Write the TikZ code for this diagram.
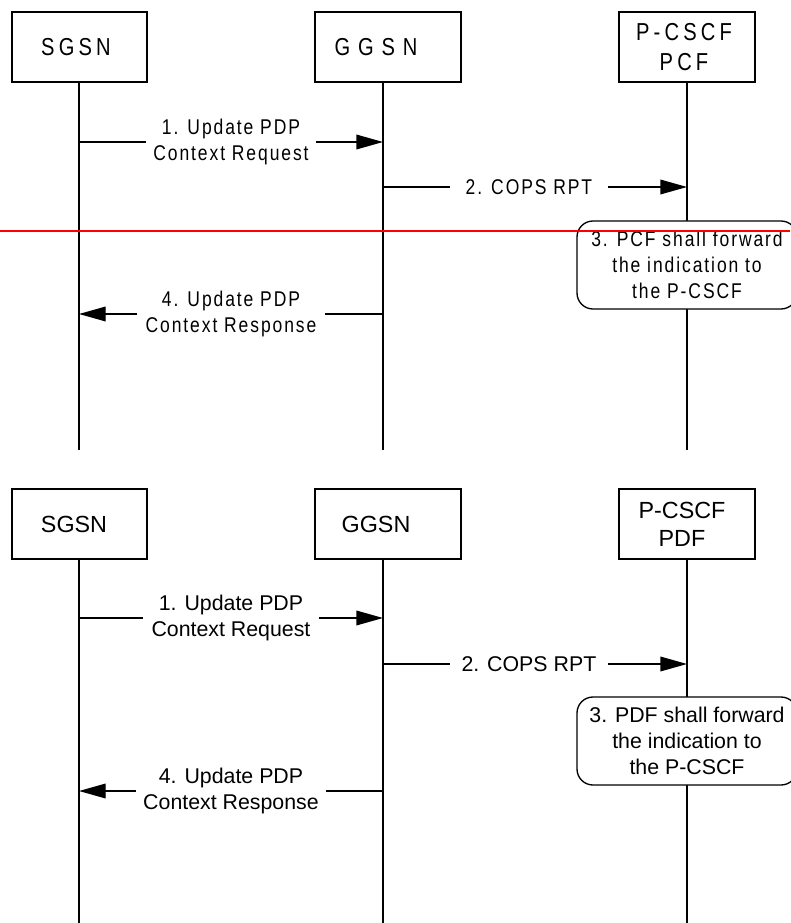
\documentclass[tikz,border=0pt]{standalone}
\usepackage{fontspec}
\setmainfont{Liberation Sans}
% narrow, letter-spaced face for the upper chart
\newfontfamily\condsans[FakeStretch=0.82,LetterSpace=9]{Liberation Sans}
\newfontfamily\condhead[FakeStretch=0.82,LetterSpace=17]{Liberation Sans}
\newfontfamily\condwide[FakeStretch=0.82,LetterSpace=32]{Liberation Sans}
\usetikzlibrary{arrows.meta}

\begin{document}
\begin{tikzpicture}[x=0.75pt,y=-0.75pt,
  entity/.style={draw, line width=1pt, minimum height=52.5pt, inner sep=0pt},
  life/.style={line width=1pt},
  msg/.style={line width=1pt, -{Triangle[length=20pt,width=11pt]}},
  lbl/.style={fill=white, inner xsep=0pt, inner ysep=1pt, align=center},
  note/.style={draw, fill=white, line width=1pt, rounded corners=12pt,
    minimum width=165pt, minimum height=66pt, align=center, inner sep=0pt},
  toptxt/.style={font=\condsans\fontsize{16}{19.5}\selectfont},
  tophead/.style={inner sep=0pt, align=center, font=\condhead\fontsize{18.4}{22.5}\selectfont},
  bottxt/.style={font=\fontsize{16}{19.5}\selectfont},
  bothead/.style={inner sep=0pt, align=center, font=\fontsize{17.5}{21}\selectfont},
]
\useasboundingbox (0,0) rectangle (790,923);

% lifeline positions and lower ends
\coordinate (xS) at (79,0);
\coordinate (xG) at (383,0);
\coordinate (xP) at (687,0);
\coordinate (bT) at (0,450);
\coordinate (bB) at (0,923);

% ---------------- upper chart ----------------
\node[entity, minimum width=101.25pt] (sgsnT) at (79.5,47) {};
\node[entity, minimum width=109.5pt] (ggsnT) at (388,47) {};
\node[entity, minimum width=102pt] (pcfT) at (687,47) {};
\node[tophead] (sgsnTt) at (76,47) {SGSN};
\node[tophead, font=\condwide\fontsize{18.4}{22.5}\selectfont] (ggsnTt) at (376,47) {GGSN};
\node[tophead] (pcfTt) at (684,47) {P-CSCF\\PCF};

\draw[life] (sgsnT.south -| xS) -- (bT -| xS);
\draw[life] (ggsnT.south -| xG) -- (bT -| xG);
\draw[life] (pcfT.south -| xP) -- (bT -| xP);

\coordinate (t1) at (0,142);
\coordinate (t2) at (0,187);
\coordinate (t4) at (0,314);

\draw[msg] (t1 -| xS) -- node[lbl, toptxt, minimum width=128pt] (t1l) {1. Update PDP\\Context Request} (t1 -| xG);
\draw[msg] (t2 -| xG) -- node[lbl, toptxt, pos=0.48, minimum width=118.5pt] (t2l) {2. COPS RPT} (t2 -| xP);
\node[note, toptxt] (t3) at (687,265) {3. PCF shall forward\\the indication to\\the P-CSCF};
\draw[msg] (t4 -| xG) -- node[lbl, toptxt, minimum width=141pt] (t4l) {4. Update PDP\\Context Response} (t4 -| xS);

% red rule across the upper chart
\draw[red, line width=1pt] (0,231) -- (790,231);

% ---------------- lower chart ----------------
\node[entity, minimum width=101.25pt] (sgsnB) at (79.5,524) {};
\node[entity, minimum width=109.5pt] (ggsnB) at (388,524) {};
\node[entity, minimum width=102pt] (pdfB) at (687,524) {};
\node[bothead] (sgsnBt) at (74,524) {SGSN};
\node[bothead] (ggsnBt) at (376,524) {GGSN};
\node[bothead] (pdfBt) at (682,524) {P-CSCF\\PDF};

\draw[life] (sgsnB.south -| xS) -- (bB -| xS);
\draw[life] (ggsnB.south -| xG) -- (bB -| xG);
\draw[life] (pdfB.south -| xP) -- (bB -| xP);

\coordinate (b1) at (0,618);
\coordinate (b2) at (0,664);
\coordinate (b4) at (0,791);

\draw[msg] (b1 -| xS) -- node[lbl, bottxt, minimum width=132pt] (b1l) {1. Update PDP\\Context Request} (b1 -| xG);
\draw[msg] (b2 -| xG) -- node[lbl, bottxt, pos=0.48, minimum width=118.5pt] (b2l) {2. COPS RPT} (b2 -| xP);
\node[note, bottxt] (b3) at (687,741) {3. PDF shall forward\\the indication to\\the P-CSCF};
\draw[msg] (b4 -| xG) -- node[lbl, bottxt, minimum width=142.5pt] (b4l) {4. Update PDP\\Context Response} (b4 -| xS);
\end{tikzpicture}
\end{document}
